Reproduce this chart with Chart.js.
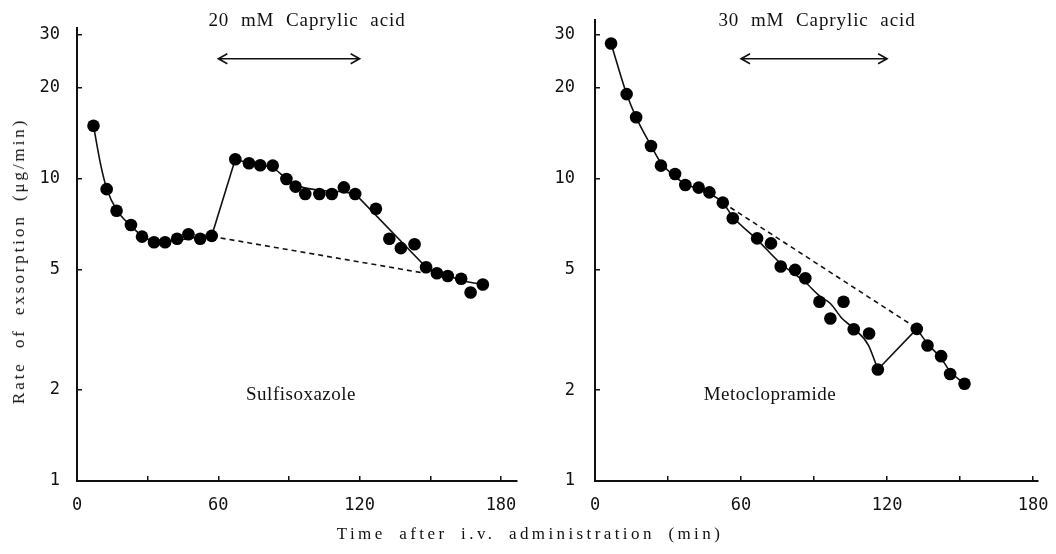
<!DOCTYPE html>
<html>
<head>
<meta charset="utf-8">
<script src="https://cdn.jsdelivr.net/npm/chart.js@4/dist/chart.umd.min.js"></script>
<style>
  body { margin: 0; background: #fff; }
  #wrap { position: relative; width: 1056px; height: 554px; overflow: hidden; }
  canvas { position: absolute; top: 0; }
  .lbl { position: absolute; font-family: "Liberation Serif", "DejaVu Serif", serif; color: #111; white-space: nowrap; transform: translateX(-50%); }
</style>
</head>
<body>
<div id="wrap">
  <canvas id="leftChart" style="left:0px;width:530px;height:554px"></canvas>
  <canvas id="rightChart" style="left:530px;width:526px;height:554px"></canvas>
  <div class="lbl" style="left:307px;top:9px;font-size:19px;letter-spacing:0.9px;word-spacing:6px">20 mM Caprylic acid</div>
  <div class="lbl" style="left:817px;top:9px;font-size:19px;letter-spacing:0.9px;word-spacing:6px">30 mM Caprylic acid</div>
  <div class="lbl" style="left:301px;top:383px;font-size:19px;letter-spacing:0.5px">Sulfisoxazole</div>
  <div class="lbl" style="left:770px;top:383px;font-size:19px;letter-spacing:0.5px">Metoclopramide</div>
  <div class="lbl" style="left:530px;top:524px;font-size:17px;letter-spacing:3.4px;word-spacing:6px">Time after i.v. administration (min)</div>
  <div class="lbl" style="left:19px;top:261px;font-size:17px;letter-spacing:2.9px;word-spacing:6px;transform:translate(-50%,-50%) rotate(-90deg)">Rate of exsorption (μg/min)</div>
</div>
<script>
// measured points, sulfisoxazole (left) and metoclopramide (right)
const leftTime = [7, 12.6, 16.8, 22.9, 27.6, 32.7, 37.4, 42.5, 47.3, 52.3, 57.2, 67.2, 73, 77.8, 83.1, 88.9, 92.8, 96.9, 102.9, 108.2, 113.3, 118.1, 126.9, 132.6, 137.5, 143.3, 148.2, 152.8, 157.4, 163.1, 167.1, 172.3];
const leftRate = [15, 9.25, 7.85, 7.04, 6.44, 6.17, 6.17, 6.34, 6.56, 6.34, 6.48, 11.62, 11.27, 11.1, 11.07, 10, 9.43, 8.92, 8.92, 8.92, 9.38, 8.92, 7.97, 6.34, 5.9, 6.08, 5.1, 4.87, 4.77, 4.67, 4.21, 4.47];

const rightTime = [6.6, 13, 16.9, 23, 27.1, 32.9, 37.1, 42.6, 47, 52.5, 56.6, 66.6, 72.3, 76.3, 82.2, 86.4, 92.2, 96.7, 102.1, 106.3, 112.6, 116.2, 132.2, 136.6, 142.2, 145.9, 151.8];
const rightRate = [28.1, 19.1, 16, 12.86, 11.07, 10.39, 9.55, 9.36, 9.03, 8.35, 7.41, 6.36, 6.12, 5.13, 5, 4.69, 3.92, 3.45, 3.92, 3.18, 3.08, 2.34, 3.19, 2.81, 2.59, 2.26, 2.1];

// fitted lines [time, rate]
const leftFit1 = [[7, 15], [10, 11.2], [12.6, 9.3], [16.8, 7.9], [22.9, 7.0], [28, 6.45], [34, 6.2], [42, 6.25], [50, 6.4], [57.2, 6.48]];
const leftStep1 = [[57.2, 6.48], [67.2, 11.62]];
const leftFit2 = [[67.2, 11.62], [73, 11.3], [78, 11.1], [83, 10.9], [89, 10.0], [93, 9.55], [103, 9.17], [113, 9.06], [118.1, 8.92]];
const leftStep2 = [[118.1, 8.92], [148.2, 5.1]];
const leftFit3 = [[148.2, 5.1], [152.8, 4.9], [157.4, 4.78], [163.1, 4.62], [172.3, 4.47]];
const leftBase = [[57.2, 6.45], [146, 4.9]];

const rightFit1 = [[6.6, 28.1], [13, 19.1], [16.9, 16], [23, 12.9], [27.1, 11.3], [32.9, 10.2], [37.1, 9.6], [42.6, 9.3], [47, 8.95], [52.5, 8.35], [56.6, 7.5], [66.6, 6.3], [76.3, 5.25], [86.4, 4.55], [92.2, 4.1], [96.7, 3.87], [101.4, 3.46], [106.3, 3.2], [112.3, 2.82], [116.2, 2.34]];
const rightStep = [[116.2, 2.34], [132.2, 3.19]];
const rightFit2 = [[132.2, 3.19], [136.6, 2.85], [142.2, 2.55], [146, 2.3], [151.8, 2.1]];
const rightBase = [[52.5, 8.35], [131, 3.25]];

const yTicks = [1, 2, 5, 10, 20, 30];
const arrowSpan = [60, 120];
const arrowLevel = 25;

function pts(t, v) { return t.map((x, i) => ({ x: x, y: v[i] })); }
function pairs(a) { return a.map(p => ({ x: p[0], y: p[1] })); }

function curve(a, mono) {
  return { data: pairs(a), showLine: true, pointRadius: 0, borderColor: '#111', borderWidth: 1.6,
    cubicInterpolationMode: mono ? 'monotone' : 'default', tension: 0 };
}

const arrowPlugin = {
  id: 'arrow',
  afterDatasetsDraw(chart) {
    const ctx = chart.ctx;
    const x1 = chart.scales.x.getPixelForValue(arrowSpan[0]);
    const x2 = chart.scales.x.getPixelForValue(arrowSpan[1]);
    const y = chart.scales.y.getPixelForValue(arrowLevel);
    ctx.save();
    ctx.strokeStyle = '#111';
    ctx.lineWidth = 1.6;
    ctx.beginPath();
    ctx.moveTo(x1, y); ctx.lineTo(x2, y);
    ctx.moveTo(x1 + 9, y - 5); ctx.lineTo(x1, y); ctx.lineTo(x1 + 9, y + 5);
    ctx.moveTo(x2 - 9, y - 5); ctx.lineTo(x2, y); ctx.lineTo(x2 - 9, y + 5);
    ctx.stroke();
    ctx.restore();
  }
};

function makeChart(id, cfg) {
  const tickFont = { family: 'DejaVu Sans Mono', size: 17 };
  new Chart(document.getElementById(id), {
    type: 'scatter',
    data: {
      datasets: [
        { data: pts(cfg.time, cfg.rate), pointRadius: 6.3, pointHoverRadius: 6.3, backgroundColor: '#000', borderWidth: 0 },
        ...cfg.lines,
        { data: pairs(cfg.base), showLine: true, pointRadius: 0, borderColor: '#111', borderWidth: 1.6, borderDash: [5, 4] }
      ]
    },
    options: {
      responsive: false,
      animation: false,
      devicePixelRatio: 1,
      layout: { padding: { left: 0, top: cfg.padTop, right: cfg.padRight, bottom: 33 } },
      plugins: { legend: { display: false }, tooltip: { enabled: false } },
      scales: {
        x: {
          type: 'linear', min: 0, max: cfg.xMax,
          border: { color: '#111', width: 2 },
          grid: { drawOnChartArea: false, tickLength: -5, color: '#111', lineWidth: 1.5 },
          ticks: { stepSize: 30, includeBounds: false, autoSkip: false, maxRotation: 0, padding: 19, color: '#111', font: tickFont,
            callback: v => (v % 60 === 0 ? v : '') },
          afterFit: s => { s.height = 40; s.paddingLeft = 0; s.paddingRight = 0; }
        },
        y: {
          type: 'logarithmic', min: 1, max: cfg.yMax,
          border: { color: '#111', width: 2 },
          grid: { drawOnChartArea: false, tickLength: -5, color: '#111', lineWidth: 1.5 },
          ticks: { padding: cfg.yPad, color: '#111', font: tickFont, callback: v => String(v) },
          afterBuildTicks: s => { s.ticks = yTicks.map(v => ({ value: v })); },
          afterFit: s => { s.width = cfg.yWidth; s.paddingTop = 0; s.paddingBottom = 0; }
        }
      }
    },
    plugins: [arrowPlugin]
  });
}

document.getElementById('leftChart').width = 530;
document.getElementById('leftChart').height = 554;
document.getElementById('rightChart').width = 526;
document.getElementById('rightChart').height = 554;

makeChart('leftChart', {
  time: leftTime, rate: leftRate, base: leftBase,
  lines: [curve(leftFit1, true), curve(leftStep1), curve(leftFit2, true), curve(leftStep2), curve(leftFit3, true)],
  xMax: 186.8, yMax: 31.6, padTop: 28, padRight: 13, yWidth: 77, yPad: 22
});

makeChart('rightChart', {
  time: rightTime, rate: rightRate, base: rightBase,
  lines: [curve(rightFit1, true), curve(rightStep), curve(rightFit2, true)],
  xMax: 182, yMax: 33.6, padTop: 20, padRight: 18, yWidth: 65, yPad: 25
});
</script>
</body>
</html>
